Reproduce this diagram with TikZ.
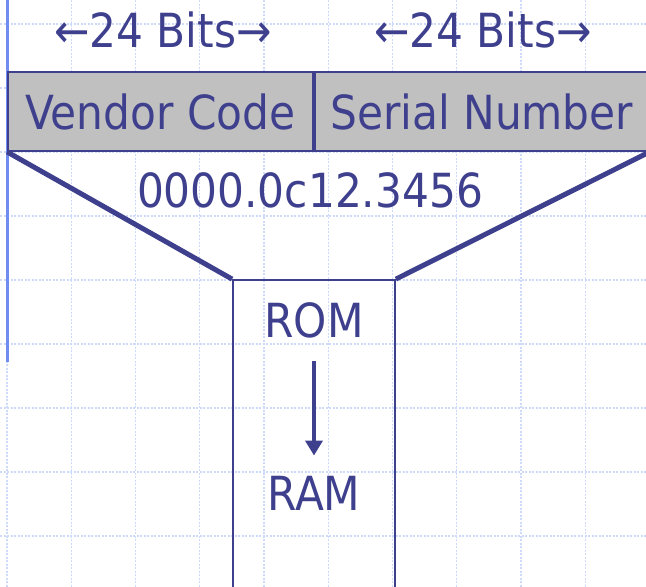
\documentclass[tikz,border=0pt]{standalone}
\usepackage{fontspec}
\setmainfont{DejaVu Sans Condensed}
\usetikzlibrary{arrows.meta}
\definecolor{ink}{RGB}{62,64,142}
\definecolor{fieldgray}{RGB}{192,192,192}
\definecolor{gridblue}{RGB}{206,218,250}
\definecolor{railblue}{RGB}{112,140,240}

\begin{document}
\begin{tikzpicture}[x=1pt, y=-1pt, every node/.style = {
                  inner sep=0pt, text=ink, font=\fontsize{47}{56}\selectfont},
                field/.style = {draw=ink, line width=1.8pt, fill=fieldgray,
                  minimum height=79pt, text height=36pt, text depth=0pt},
                funnel/.style = {draw=ink, line width=5pt},
                flow/.style = {draw=ink, line width=4.5pt, -{Triangle[length=15pt,width=17pt]}},
                gridline/.style = {draw=gridblue, line width=1.3pt, dash pattern=on 2pt off 1.5pt}]
  \useasboundingbox (0,0) rectangle (646,587);
  \clip (0,0) rectangle (646,587);
  % background grid
  \foreach \i in {0,...,9} \draw[gridline] ({7+64.25*\i},0) -- ({7+64.25*\i},587);
  \foreach \j in {0,...,8} \draw[gridline] (0,{24+64*\j}) -- (646,{24+64*\j});
  \draw[railblue, line width=3pt] (7,0) -- (7,362);
  % address fields
  \node[field, minimum width=305pt] (vendor) at (160.5,111.5) {Vendor Code};
  \node[field, minimum width=334pt, anchor=west] (serial) at (vendor.east) {Serial Number};
  \node[anchor=base] (bitsL) at (163,47) {←24 Bits→};
  \node[anchor=base] (bitsR) at (483,47) {←24 Bits→};
  \node[anchor=base] (addr) at (310,207) {0000.0c12.3456};
  % memory column
  \node[draw=ink, line width=1.8pt, minimum width=162pt, minimum height=340pt] (mem) at (314,450) {};
  \draw[funnel] (vendor.south west) -- (mem.north west);
  \draw[funnel] (serial.south east) -- (mem.north east);
  \node[anchor=base] (rom) at (314,337) {ROM};
  \node[anchor=base] (ram) at (314,510) {RAM};
  \draw[flow] ([yshift=-23pt]rom.south) -- ([yshift=20pt]ram.north);
\end{tikzpicture}
\end{document}
